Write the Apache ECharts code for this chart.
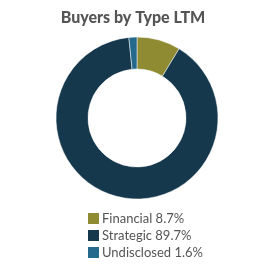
<!DOCTYPE html>
<html>
<head>
<meta charset="utf-8">
<script src="https://cdn.jsdelivr.net/npm/echarts@6/dist/echarts.min.js"></script>
<style>
html, body { margin: 0; padding: 0; background: #fff; }
#chart { width: 275px; height: 268px; }
</style>
</head>
<body>
<div id="chart"></div>
<script>
var categories = ['Financial', 'Strategic', 'Undisclosed'];
var shares = [8.7, 89.7, 1.6];
var colors = ['#8e8b32', '#15384d', '#256a8d'];

var pieData = categories.map(function (name, i) {
	return {name: name, value: shares[i], itemStyle: {color: colors[i]}};
});

var option = {
	animation: false,
	title: {
		text: 'Buyers by Type LTM',
		left: 128,
		textAlign: 'center',
		top: 5,
		textStyle: {
			fontFamily: 'Lato',
			fontWeight: 900,
			fontSize: 16,
			color: '#555'
		}
	},
	legend: {
		orient: 'vertical',
		left: 81,
		top: 206,
		height: 62,
		itemWidth: 13,
		itemHeight: 13,
		itemGap: 2,
		icon: 'rect',
		textStyle: {
			fontFamily: 'Lato',
			fontSize: 13,
			color: '#555',
			padding: [0, 0, 0, -3]
		},
		formatter: function (name) {
			var i = categories.indexOf(name);
			return name + ' ' + shares[i].toFixed(1) + '%';
		}
	},
	series: [{
		type: 'pie',
		center: [137, 118],
		radius: [49, 81],
		startAngle: 90,
		clockwise: true,
		label: {show: false},
		labelLine: {show: false},
		itemStyle: {borderColor: '#fff', borderWidth: 0.5},
		data: pieData
	}]
};

var chart = echarts.init(document.getElementById('chart'));
chart.setOption(option);
</script>
</body>
</html>
